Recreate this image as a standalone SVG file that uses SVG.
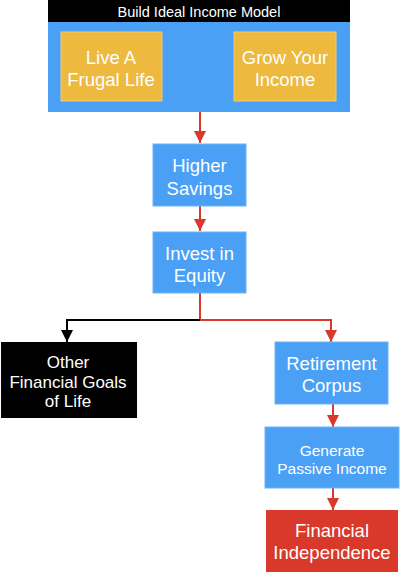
<svg xmlns="http://www.w3.org/2000/svg" width="400" height="572" viewBox="0 0 400 572">
<style>
text{font-family:"Liberation Sans",Arial,sans-serif;fill:#fff;text-anchor:middle;dominant-baseline:central}
.blue{fill:#4AA0F5;stroke:#6BB4F7;stroke-width:1}
.yel{fill:#EDB93F;stroke:#F2CB6A;stroke-width:1}
.red{stroke:#D9392A;stroke-width:2;fill:none}
.blk{stroke:#000;stroke-width:2;fill:none}
.t17{font-size:18.5px}
.t16{font-size:17px}
.t14{font-size:15.5px}
</style>
<defs>
<marker id="ar" viewBox="0 0 10 10" refX="10" refY="5" markerWidth="6" markerHeight="6" orient="auto"><path d="M0,0L10,5L0,10z" fill="#D9392A"/></marker>
<marker id="ak" viewBox="0 0 10 10" refX="10" refY="5" markerWidth="6" markerHeight="6" orient="auto"><path d="M0,0L10,5L0,10z" fill="#000"/></marker>
</defs>
<g id="connectors">
<path class="red" d="M200,112V143" marker-end="url(#ar)"/>
<path class="red" d="M200,206V231" marker-end="url(#ar)"/>
<path class="red" d="M200,293V319"/>
<path class="blk" d="M200,320H67V342" marker-end="url(#ak)"/>
<path class="red" d="M200,320H331V342" marker-end="url(#ar)"/>
<path class="red" d="M333,404V427" marker-end="url(#ar)"/>
<path class="red" d="M333,488V510" marker-end="url(#ar)"/>
</g>
<g id="model">
<rect x="48" y="22" width="302" height="90" fill="#4AA0F5"/>
<rect x="48" y="0" width="302" height="22" fill="#000"/>
<text x="199" y="12" font-size="14.5">Build Ideal Income Model</text>
</g>
<g id="frugal">
<rect class="yel" x="61" y="32" width="101" height="69"/>
<text class="t17" x="111" y="57">Live A</text>
<text class="t17" x="111" y="79">Frugal Life</text>
</g>
<g id="grow">
<rect class="yel" x="234" y="32" width="102" height="69"/>
<text class="t17" x="285" y="57">Grow Your</text>
<text class="t17" x="285" y="79">Income</text>
</g>
<g id="savings">
<rect class="blue" x="153" y="144" width="93" height="62"/>
<text class="t17" x="199.5" y="165">Higher</text>
<text class="t17" x="199.5" y="188">Savings</text>
</g>
<g id="invest">
<rect class="blue" x="153" y="232" width="93" height="61"/>
<text class="t17" x="199.5" y="253">Invest in</text>
<text class="t17" x="199.5" y="275">Equity</text>
</g>
<g id="other">
<rect x="1" y="342" width="136" height="76" fill="#000"/>
<text class="t16" x="68" y="362">Other</text>
<text class="t16" x="68" y="382">Financial Goals</text>
<text class="t16" x="68" y="401">of Life</text>
</g>
<g id="retirement">
<rect class="blue" x="275" y="342" width="113" height="62"/>
<text class="t17" x="331.5" y="363">Retirement</text>
<text class="t17" x="331.5" y="385">Corpus</text>
</g>
<g id="passive">
<rect class="blue" x="265" y="427" width="134" height="61"/>
<text class="t14" x="332" y="450">Generate</text>
<text class="t14" x="332" y="468">Passive Income</text>
</g>
<g id="independence">
<rect x="266" y="510" width="132" height="62" fill="#D9392A"/>
<text class="t17" x="332" y="530">Financial</text>
<text class="t17" x="332" y="552">Independence</text>
</g>
</svg>
